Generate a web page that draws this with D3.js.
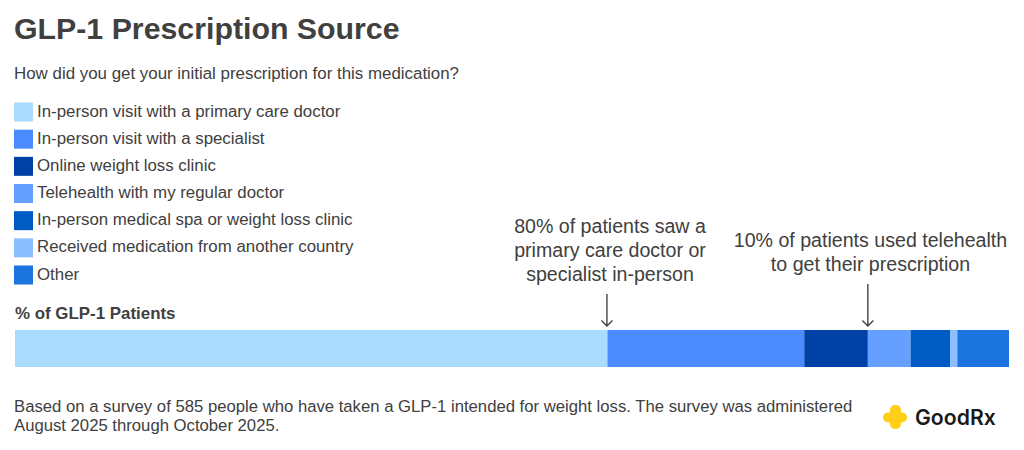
<!DOCTYPE html>
<html><head><meta charset="utf-8">
<script src="https://cdn.jsdelivr.net/npm/d3@7"></script>
<style>html,body{margin:0;padding:0;background:#fff}svg{display:block}text{font-family:"Liberation Sans",Arial,sans-serif}</style>
</head><body><svg id="c" width="1024" height="450"></svg>
<script>
const categories=["In-person visit with a primary care doctor","In-person visit with a specialist","Online weight loss clinic","Telehealth with my regular doctor","In-person medical spa or weight loss clinic","Received medication from another country","Other"];
const values=[59.6,19.8,6.4,4.3,4.0,0.7,5.2];
const colors=["#a9dcff","#4a8cff","#0041a8","#659fff","#005cc5","#8cbfff","#1c74df"];
const annotations=[
 {at:59.55,lines:["80% of patients saw a","primary care doctor or","specialist in-person"],cx:610,y0:233,top:294},
 {at:85.8,lines:["10% of patients used telehealth","to get their prescription"],cx:870.5,y0:247,top:284}];
const footnote=["Based on a survey of 585 people who have taken a GLP-1 intended for weight loss. The survey was administered","August 2025 through October 2025."];
const ink="#404040";
const svg=d3.select("#c");
const text=(x,y,s,size,opt={})=>svg.append("text").attr("x",x).attr("y",y).text(s).attr("font-size",size).attr("fill",opt.fill||ink).attr("font-weight",opt.w||400).attr("text-anchor",opt.a||"start").style("font-family",opt.f||null);
text(14,38.5,"GLP-1 Prescription Source",30.3,{w:700});
text(14,79,"How did you get your initial prescription for this medication?",16.9);
const ly=d3.scalePoint().domain(categories).range([112,275]);
const lg=svg.append("g");
categories.forEach((c,i)=>{
 lg.append("rect").attr("x",14).attr("y",ly(c)-9.5).attr("width",19).attr("height",19).attr("fill",colors[i]);
 text(37,ly(c)+4.5,c,16.85);
});
text(15,318.5,"% of GLP-1 Patients",16.9,{w:700});
const x=d3.scaleLinear().domain([0,100]).range([15,1009]);
const stack=d3.cumsum(values);
svg.append("g").selectAll("rect").data(values).join("rect")
 .attr("x",(d,i)=>x(stack[i]-d)).attr("y",330).attr("width",d=>x(d)-x(0)).attr("height",37)
 .attr("fill",(d,i)=>colors[i]);
annotations.forEach(a=>{
 a.lines.forEach((l,i)=>text(a.cx,a.y0+i*24,l,19.6,{a:"middle"}));
 const px=x(a.at);
 svg.append("path").attr("d",`M${px},${a.top}V326M${px-5.5},320.5L${px},326L${px+5.5},320.5`).attr("fill","none").attr("stroke","#444").attr("stroke-width",1.4);
});
footnote.forEach((l,i)=>text(14,411.5+i*19,l,16.7));
// logo
const lo=svg.append("g").attr("fill","#ffce16");
lo.append("rect").attr("x",890).attr("y",405).attr("width",11).attr("height",24).attr("rx",5);
lo.append("rect").attr("x",883).attr("y",412.5).attr("width",24).attr("height",10).attr("rx",5);
text(915,425,"GoodRx",21.2,{w:600,fill:"#1a1a1a",f:"Inter"});
</script></body></html>
